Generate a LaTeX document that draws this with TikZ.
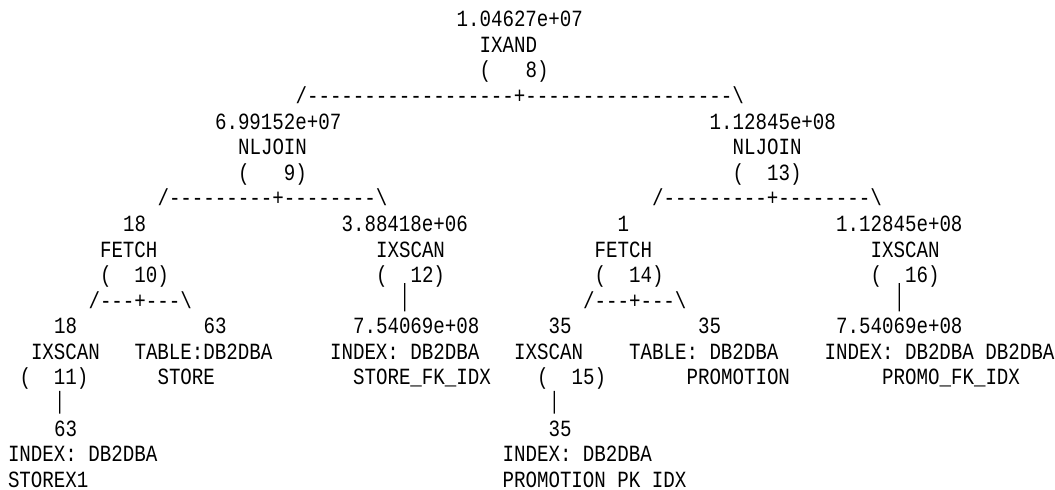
\documentclass[tikz,border=0pt]{standalone}
\usepackage{fontspec}
\setmonofont{Liberation Mono}[FakeStretch=0.826]
\newcommand\planfont{\ttfamily\fontsize{23.2pt}{25.6pt}\selectfont}
\tikzset{
  t/.style={anchor=base west, inner sep=0pt, outer sep=0pt, font=\planfont, text=black},
  vbar/.style={line width=1.3pt, draw=black}
}
\begin{document}
\begin{tikzpicture}[x=11.5pt, y=-25.59pt]
\useasboundingbox (-0.6957,-1.0434) rectangle (91.043,18.066);
\fill[white] (-0.6957,-1.0434) rectangle (91.043,18.066);
% root
\node[t] (r8c) at (39,0) {1.04627e+07};
\node[t] (r8)  at (41,1) {IXAND};
\node[t] (r8p) at (41,2) {(\ \ \ 8)};
\node[t] (e8)  at (25,3) {/------------------+------------------\textbackslash};
% level 2
\node[t] (r9c)  at (18,4) {6.99152e+07};
\node[t] (r9)   at (20,5) {NLJOIN};
\node[t] (r9p)  at (20,6) {(\ \ \ 9)};
\node[t] (e9)   at (13,7) {/---------+--------\textbackslash};
\node[t] (r13c) at (61,4) {1.12845e+08};
\node[t] (r13)  at (63,5) {NLJOIN};
\node[t] (r13p) at (63,6) {(\ \ 13)};
\node[t] (e13)  at (56,7) {/---------+--------\textbackslash};
% level 3
\node[t] (r10c) at (10,8) {18};
\node[t] (r10)  at (8,9)  {FETCH};
\node[t] (r10p) at (8,10) {(\ \ 10)};
\node[t] (e10)  at (7,11) {/---+---\textbackslash};
\node[t] (r12c) at (29,8) {3.88418e+06};
\node[t] (r12)  at (32,9) {IXSCAN};
\node[t] (r12p) at (32,10) {(\ \ 12)};
\node[t] (r14c) at (53,8) {1};
\node[t] (r14)  at (51,9) {FETCH};
\node[t] (r14p) at (51,10) {(\ \ 14)};
\node[t] (e14)  at (50,11) {/---+---\textbackslash};
\node[t] (r16c) at (72,8) {1.12845e+08};
\node[t] (r16)  at (75,9) {IXSCAN};
\node[t] (r16p) at (75,10) {(\ \ 16)};
% level 4
\node[t] (r11c) at (4,12) {18};
\node[t] (r11)  at (2,13) {IXSCAN};
\node[t] (r11p) at (1,14) {(\ \ 11)};
\node[t] (tsc)  at (17,12) {63};
\node[t] (ts)   at (11,13) {TABLE:DB2DBA};
\node[t] (tsn)  at (13,14) {STORE};
\node[t] (ifc)  at (30,12) {7.54069e+08};
\node[t] (if)   at (28,13) {INDEX: DB2DBA};
\node[t] (ifn)  at (30,14) {STORE\_FK\_IDX};
\node[t] (r15c) at (47,12) {35};
\node[t] (r15)  at (44,13) {IXSCAN};
\node[t] (r15p) at (46,14) {(\ \ 15)};
\node[t] (tpc)  at (60,12) {35};
\node[t] (tp)   at (54,13) {TABLE: DB2DBA};
\node[t] (tpn)  at (59,14) {PROMOTION};
\node[t] (ipc)  at (72,12) {7.54069e+08};
\node[t] (ip)   at (71,13) {INDEX: DB2DBA DB2DBA};
\node[t] (ipn)  at (76,14) {PROMO\_FK\_IDX};
% level 5
\node[t] (isc)  at (4,16)  {63};
\node[t] (is)   at (0,17)  {INDEX: DB2DBA};
\node[t] (isn)  at (0,18)  {STOREX1};
\node[t] (ippc) at (47,16) {35};
\node[t] (ipp)  at (43,17) {INDEX: DB2DBA};
\node[t] (ippn) at (43,18) {PROMOTION PK IDX};
% vertical connectors
\draw[vbar] ([xshift=-5.75pt,yshift=-0.5pt]r12p.base) -- ([xshift=-11.5pt,yshift=7pt]ifc.north);
\draw[vbar] ([xshift=-5.75pt,yshift=-0.5pt]r16p.base) -- ([yshift=7pt]ipc.north);
\draw[vbar] ([xshift=5.75pt,yshift=-6pt]r11p.base) -- ([xshift=-5.75pt,yshift=7pt]isc.north);
\draw[vbar] ([xshift=-17.25pt,yshift=-6pt]r15p.base) -- ([xshift=-5.75pt,yshift=7pt]ippc.north);
\end{tikzpicture}
\end{document}
